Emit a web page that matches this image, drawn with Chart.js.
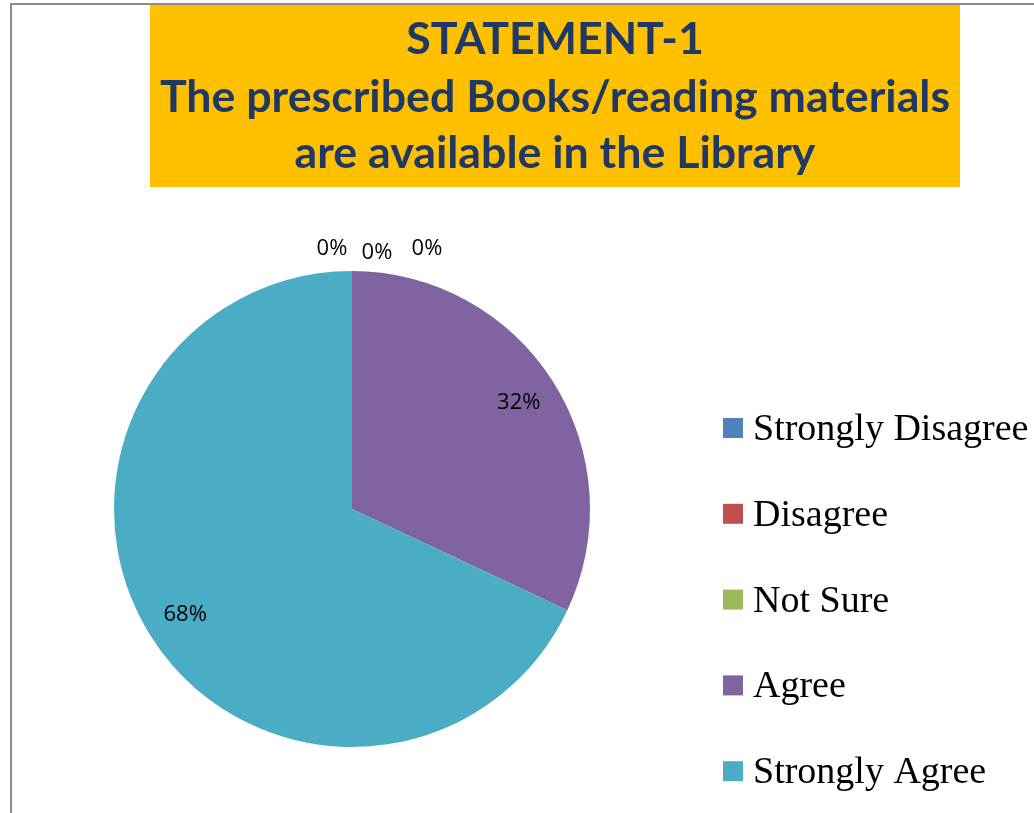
<!DOCTYPE html>
<html>
<head>
<meta charset="utf-8">
<script src="https://cdn.jsdelivr.net/npm/chart.js@4/dist/chart.umd.min.js"></script>
<style>
  html, body { margin: 0; padding: 0; background: #ffffff; }
  #wrap { position: relative; width: 1034px; height: 813px; overflow: hidden; }
  canvas { display: block; }
</style>
</head>
<body>
<div id="wrap"><canvas id="c" width="1034" height="813"></canvas></div>
<script>
// ---- data ----
const categories = ['Strongly Disagree', 'Disagree', 'Not Sure', 'Agree', 'Strongly Agree'];
const percentValues = [0, 0, 0, 32, 68];
const titleLines = ['STATEMENT-1', 'The prescribed Books/reading materials', 'are available in the Library'];

// ---- styles ----
const sliceColors = ['#4F81BD', '#C0504D', '#9BBB59', '#8064A2', '#4BACC6'];
const titleColor = '#1F3864';
const titleBg = '#FFC000';

const decorPlugin = {
  id: 'decor',
  beforeDraw(chart) {
    const ctx = chart.ctx;
    ctx.save();
    ctx.fillStyle = '#ffffff';
    ctx.fillRect(0, 0, chart.width, chart.height);
    // outer chart border
    ctx.strokeStyle = '#8c8c8c';
    ctx.lineWidth = 2;
    ctx.strokeRect(11, 4, chart.width + 20, chart.height + 20);
    // title box
    ctx.fillStyle = titleBg;
    ctx.fillRect(150, 5, 810, 182);
    // title text, fitted so the long line matches the box
    ctx.fillStyle = titleColor;
    ctx.textAlign = 'center';
    ctx.textBaseline = 'alphabetic';
    ctx.font = 'bold 100px Lato';
    const w = ctx.measureText(titleLines[1]).width;
    const size = Math.round(100 * 790 / w * 10) / 10;
    ctx.font = 'bold ' + size + 'px Lato';
    const baselines = [54, 112, 168];
    titleLines.forEach((t, i) => ctx.fillText(t, 555, baselines[i]));
    ctx.restore();
  },
  afterDraw(chart) {
    const ctx = chart.ctx;
    ctx.save();
    // legend
    const items = chart.data.labels;
    ctx.font = '38px "Liberation Serif"';
    ctx.textAlign = 'left';
    ctx.textBaseline = 'alphabetic';
    items.forEach((lab, i) => {
      const cy = 428 + i * 85.8;
      ctx.fillStyle = chart.data.datasets[0].backgroundColor[i];
      ctx.fillRect(723, cy - 10, 20, 20);
      ctx.fillStyle = '#000000';
      ctx.fillText(lab, 753, cy + 12);
    });
    // data labels
    const meta = chart.getDatasetMeta(0);
    const data = chart.data.datasets[0].data;
    ctx.font = '22px "Open Sans"';
    ctx.textAlign = 'center';
    ctx.textBaseline = 'middle';
    ctx.fillStyle = '#000000';
    const zeroShift = [-20, 25, 75];
    const zeroLift = [0, 4, 0];
    let z = 0;
    meta.data.forEach((arc, i) => {
      const v = data[i];
      const mid = (arc.startAngle + arc.endAngle) / 2;
      let x, y;
      if (v === 0) {
        const r = arc.outerRadius + 22;
        x = arc.x + Math.cos(mid) * r + zeroShift[z % 3];
        y = arc.y + Math.sin(mid) * r + zeroLift[z % 3];
        z++;
      } else {
        const r = arc.outerRadius * 0.83;
        x = arc.x + Math.cos(mid) * r;
        y = arc.y + Math.sin(mid) * r;
      }
      ctx.fillText(v + '%', x, y);
    });
    ctx.restore();
  }
};

new Chart(document.getElementById('c'), {
  type: 'pie',
  data: {
    labels: categories,
    datasets: [{
      data: percentValues,
      backgroundColor: sliceColors,
      borderWidth: 0,
      hoverOffset: 0,
      offset: 0
    }]
  },
  options: {
    responsive: false,
    devicePixelRatio: 1,
    animation: false,
    layout: { padding: { left: 114, top: 271, right: 444, bottom: 66 } },
    plugins: {
      legend: { display: false },
      tooltip: { enabled: false },
      title: { display: false }
    }
  },
  plugins: [decorPlugin]
});
</script>
</body>
</html>
